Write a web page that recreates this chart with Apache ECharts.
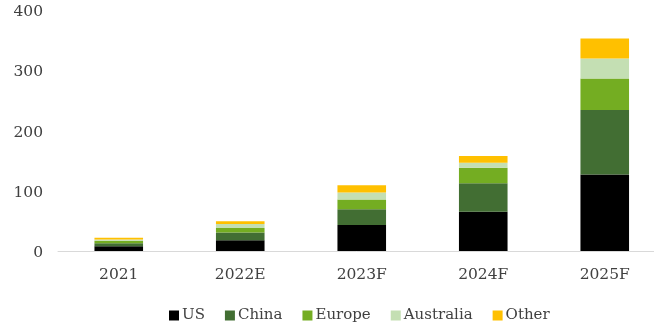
<!DOCTYPE html>
<html>
<head>
<meta charset="utf-8">
<script src="https://cdn.jsdelivr.net/npm/echarts@6/dist/echarts.min.js"></script>
<style>
  html, body { margin: 0; padding: 0; background: #fff; }
  #chart { width: 654px; height: 330px; }
</style>
</head>
<body>
<div id="chart"></div>
<script>
// Installed capacity by region and year
const categories = ['2021', '2022E', '2023F', '2024F', '2025F'];
const us        = [8, 18, 43, 65, 127];
const china     = [5, 12.5, 26.5, 47.5, 107];
const europe    = [4, 7.5, 16, 25.5, 52.5];
const australia = [2, 7, 11.5, 8.5, 33];
const other     = [3, 4.5, 12, 11, 33];
const yTicks    = [0, 100, 200, 300, 400];

const seriesDefs = [
  { name: 'US', data: us, color: '#000000' },
  { name: 'China', data: china, color: '#426e33' },
  { name: 'Europe', data: europe, color: '#74ad22' },
  { name: 'Australia', data: australia, color: '#c4dfb3' },
  { name: 'Other', data: other, color: '#ffc000' }
];

const font = '"DejaVu Serif", "Liberation Serif", serif';
const chart = echarts.init(document.getElementById('chart'));
chart.setOption({
  animation: false,
  textStyle: { fontFamily: font },
  grid: { left: 58, width: 607.5, top: 10, bottom: 79, outerBoundsMode: 'none', containLabel: false },
  legend: {
    top: 303,
    left: 164,
    itemWidth: 10,
    itemHeight: 10,
    itemGap: 20,
    icon: 'rect',
    textStyle: { fontFamily: font, fontSize: 15, color: '#404040', padding: [0, 0, 0, -2] },
    data: seriesDefs.map(s => s.name)
  },
  xAxis: {
    type: 'category',
    data: categories,
    axisLine: { lineStyle: { color: '#d9d9d9', width: 1 } },
    axisTick: { show: false },
    axisLabel: { color: '#404040', fontSize: 15.5, fontFamily: font, margin: 16 }
  },
  yAxis: {
    type: 'value',
    min: yTicks[0],
    max: yTicks[yTicks.length - 1],
    interval: 100,
    splitLine: { show: false },
    axisLine: { show: false },
    axisTick: { show: false },
    axisLabel: { color: '#404040', fontSize: 15.5, fontFamily: font, margin: 15, verticalAlign: 'top', padding: [-6, 0, 0, 0] }
  },
  series: seriesDefs.map(s => ({
    name: s.name,
    type: 'bar',
    stack: 'total',
    barWidth: '40%',
    data: s.data,
    itemStyle: { color: s.color }
  }))
});
</script>
</body>
</html>
